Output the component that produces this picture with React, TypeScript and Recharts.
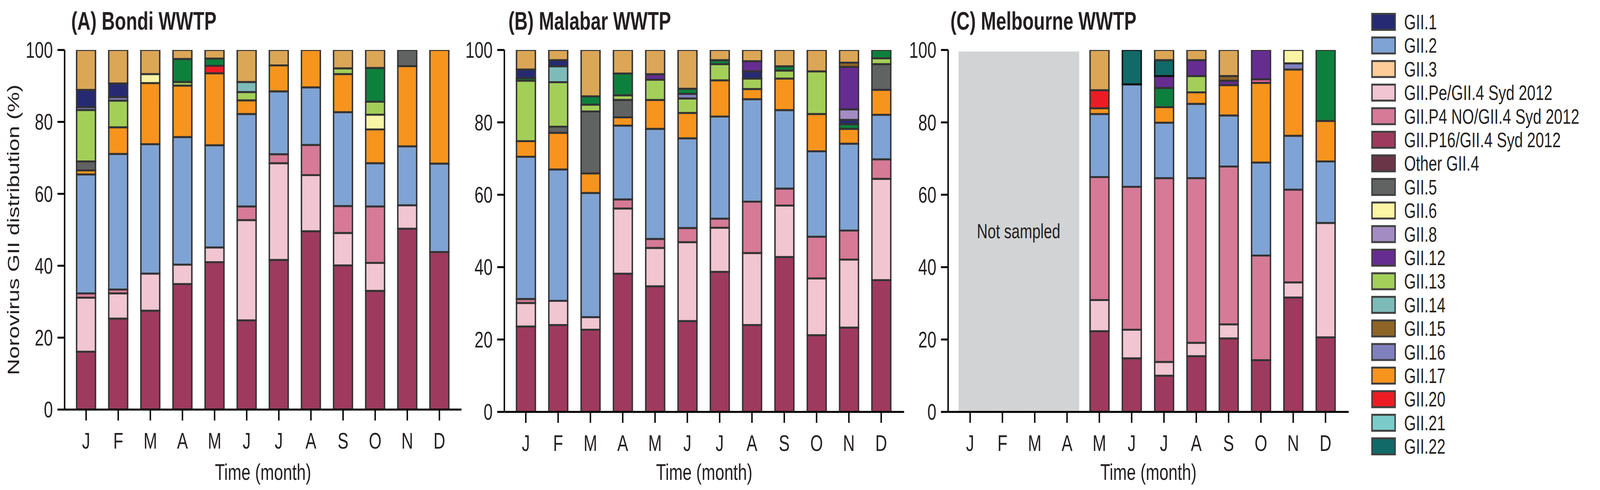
import React from 'react'
import { BarChart, Bar, XAxis, YAxis, ReferenceArea } from 'recharts'

const MONTHS = ['Jan', 'Feb', 'Mar', 'Apr', 'May', 'Jun', 'Jul', 'Aug', 'Sep', 'Oct', 'Nov', 'Dec']
const Y_TICKS = [0, 20, 40, 60, 80, 100]
const TEXT = '#231f20'
const FONT = "'Liberation Sans', 'DejaVu Sans', sans-serif"
const FIG_W = 5596
const FIG_H = 1255

interface Series {
  key: string
  label: string
  color: string
  legend: boolean
  stroke?: string
}

// stack order, bottom to top
const SERIES: Series[] = [
  { key: 'P16', label: 'GII.P16/GII.4 Syd 2012', color: '#9e3a5e', legend: true },
  { key: 'Pe', label: 'GII.Pe/GII.4 Syd 2012', color: '#f1c5d2', legend: true },
  { key: 'P4', label: 'GII.P4 NO/GII.4 Syd 2012', color: '#d67a97', legend: true },
  { key: 'O4', label: 'Other GII.4', color: '#6a3547', legend: true },
  { key: 'G2', label: 'GII.2', color: '#7fa3d4', legend: true },
  { key: 'G17', label: 'GII.17', color: '#f7941d', legend: true },
  { key: 'HP', label: 'unlisted (pink)', color: '#f0659a', legend: false },
  { key: 'G20', label: 'GII.20', color: '#ed1c24', legend: true },
  { key: 'G5', label: 'GII.5', color: '#616262', legend: true },
  { key: 'G6', label: 'GII.6', color: '#faf5a5', legend: true },
  { key: 'G13', label: 'GII.13', color: '#a3cf59', legend: true },
  { key: 'G14', label: 'GII.14', color: '#7dbbb9', legend: true },
  { key: 'G16', label: 'GII.16', color: '#8080bf', legend: true },
  { key: 'DG', label: 'unlisted (green)', color: '#0e803e', legend: false },
  { key: 'G1', label: 'GII.1', color: '#262a73', legend: true },
  { key: 'G8', label: 'GII.8', color: '#a38cc2', legend: true },
  { key: 'G12', label: 'GII.12', color: '#662d91', legend: true },
  { key: 'G22', label: 'GII.22', color: '#116a68', legend: true, stroke: '#111111' },
  { key: 'G15', label: 'GII.15', color: '#8e6428', legend: true },
  { key: 'G21', label: 'GII.21', color: '#7acbc9', legend: true },
  { key: 'G3', label: 'GII.3', color: '#fdcc99', legend: true },
  { key: 'G6b', label: 'GII.6', color: '#faf5a5', legend: false },
  { key: 'TAN', label: 'unlisted (tan)', color: '#dca657', legend: false },
]

const LEGEND_KEYS = ['G1', 'G2', 'G3', 'Pe', 'P4', 'P16', 'O4', 'G5', 'G6', 'G8', 'G12', 'G13', 'G14', 'G15', 'G16', 'G17', 'G20', 'G21', 'G22']

// values in %, Jan..Dec
const BONDI: Record<string, number[]> = {
  P16: [16.1, 25.3, 27.5, 34.9, 41.0, 24.8, 41.6, 49.6, 40.1, 33.0, 50.3, 43.8],
  Pe: [15.0, 7.0, 10.3, 5.4, 4.1, 27.9, 26.9, 15.6, 9.0, 7.8, 6.5, 0],
  P4: [1.2, 1.1, 0, 0, 0, 3.8, 2.5, 8.4, 7.5, 15.7, 0, 0],
  G2: [33.1, 37.7, 36.0, 35.5, 28.4, 25.7, 17.5, 16.0, 26.1, 12.0, 16.4, 24.6],
  G17: [1.1, 7.4, 17.0, 14.3, 20.0, 3.8, 7.2, 10.4, 10.6, 9.4, 22.3, 31.6],
  G20: [0, 0, 0, 0, 2.1, 0, 0, 0, 0, 0, 0, 0],
  G5: [2.5, 0, 0, 0, 0, 0, 0, 0, 0, 0, 4.5, 0],
  G6: [0, 0, 2.5, 0, 0, 0, 0, 0, 0, 4.1, 0, 0],
  G13: [14.3, 7.4, 0, 1.0, 0, 2.3, 0, 0, 1.6, 3.6, 0, 0],
  G14: [0, 0, 0, 0, 0, 2.8, 0, 0, 0, 0, 0, 0],
  G16: [0.8, 1.0, 0, 0, 0, 0, 0, 0, 0, 0, 0, 0],
  DG: [0, 0, 0, 6.4, 2.0, 0, 0, 0, 0, 9.4, 0, 0],
  G1: [4.8, 3.8, 0, 0, 0, 0, 0, 0, 0, 0, 0, 0],
  TAN: [11.1, 9.3, 6.7, 2.5, 2.4, 8.9, 4.3, 0, 5.1, 5.0, 0, 0],
}

const MALABAR: Record<string, number[]> = {
  P16: [23.6, 24.0, 22.7, 38.2, 34.7, 25.1, 38.7, 24.0, 42.8, 21.2, 23.3, 36.4],
  Pe: [6.5, 6.7, 3.5, 18.0, 10.6, 21.8, 12.2, 19.9, 14.2, 15.7, 18.8, 28.0],
  P4: [1.1, 0, 0, 2.5, 2.5, 3.9, 2.5, 14.2, 4.7, 11.5, 8.0, 5.4],
  G2: [39.3, 36.3, 34.3, 20.4, 30.4, 24.8, 28.2, 28.3, 21.7, 23.6, 24.0, 12.3],
  G17: [4.3, 10.1, 5.4, 2.3, 8.0, 7.0, 10.0, 2.8, 8.7, 10.3, 4.1, 6.9],
  G5: [0, 1.7, 17.1, 4.8, 0, 0, 0, 0, 0, 0, 0, 7.1],
  G13: [16.7, 12.3, 1.9, 1.3, 5.6, 4.0, 4.5, 2.9, 2.2, 11.8, 0, 1.6],
  G14: [0, 4.4, 0, 0, 0, 0, 0, 0, 0, 0, 0, 0],
  G16: [0, 0, 0, 0, 0, 1.3, 0, 0, 0, 0, 0, 0],
  DG: [0.7, 0, 2.3, 6.0, 0, 1.4, 1.1, 0, 1.2, 0, 1.3, 2.3],
  G1: [2.4, 1.7, 0, 0, 0, 0, 0, 2.0, 0, 0, 1.2, 0],
  G8: [0, 0, 0, 0, 0, 0, 0, 0, 0, 0, 2.9, 0],
  G12: [0, 0, 0, 0, 1.5, 0, 0, 2.8, 0, 0, 11.7, 0],
  G15: [0, 0, 0, 0, 0, 0, 0, 0, 0, 0, 1.2, 0],
  TAN: [5.4, 2.8, 12.8, 6.5, 6.7, 10.7, 2.8, 3.1, 4.5, 5.9, 3.5, 0],
}

// Jan-Apr not sampled
const MELBOURNE: Record<string, number[]> = {
  P16: [0, 0, 0, 0, 22.3, 14.8, 10.0, 15.4, 20.3, 14.3, 31.6, 20.6],
  Pe: [0, 0, 0, 0, 8.6, 7.9, 3.8, 3.7, 3.9, 0, 4.2, 31.6],
  P4: [0, 0, 0, 0, 34.0, 39.5, 50.8, 45.5, 43.6, 28.9, 25.6, 0],
  G2: [0, 0, 0, 0, 17.4, 28.3, 15.3, 20.5, 14.1, 25.7, 14.9, 17.0],
  G17: [0, 0, 0, 0, 1.6, 0, 4.3, 3.2, 8.4, 22.0, 18.3, 11.2],
  HP: [0, 0, 0, 0, 0, 0, 0, 0, 0, 1.0, 0, 0],
  G20: [0, 0, 0, 0, 5.0, 0, 0, 0, 0, 0, 0, 0],
  G13: [0, 0, 0, 0, 0, 0, 0, 4.5, 0, 0, 0, 0],
  G16: [0, 0, 0, 0, 0, 0, 0, 0, 0, 0, 1.7, 0],
  DG: [0, 0, 0, 0, 0, 0, 5.3, 0, 0, 0, 0, 19.6],
  G12: [0, 0, 0, 0, 0, 0, 3.3, 4.4, 1.2, 8.1, 0, 0],
  G22: [0, 0, 0, 0, 0, 9.5, 4.4, 0, 0, 0, 0, 0],
  G15: [0, 0, 0, 0, 0, 0, 0, 0, 1.3, 0, 0, 0],
  G6b: [0, 0, 0, 0, 0, 0, 0, 0, 0, 0, 3.7, 0],
  TAN: [0, 0, 0, 0, 11.1, 0, 2.8, 2.8, 7.2, 0, 0, 0],
}

function buildRows(site: Record<string, number[]>) {
  return MONTHS.map((month, i) => {
    const row: Record<string, any> = { month }
    SERIES.forEach((s) => {
      row[s.key] = site[s.key] ? site[s.key][i] : 0
    })
    return row
  })
}

const PANELS = [
  { title: '(A) Bondi WWTP', site: BONDI, left: 0, width: 1640, yWidth: 226, right: 26, xHeight: 206, pad: { left: 19, right: 21 }, yLabel: true, titleX: 249 },
  { title: '(B) Malabar WWTP', site: MALABAR, left: 1594, width: 1588, yWidth: 170, right: 20, xHeight: 200, pad: { left: 18.5, right: 23.5 }, yLabel: false, titleX: 1778 },
  { title: '(C) Melbourne WWTP', site: MELBOURNE, left: 3146, width: 1591, yWidth: 170, right: 20, xHeight: 200, pad: { left: 20.5, right: 24.5 }, yLabel: false, titleX: 3324, notSampled: true },
]

const axisStyle = { stroke: '#000', strokeWidth: 5 }

function Panel({ p }: { p: any }) {
  const rows = buildRows(p.site)
  return (
    <div style={{ position: 'absolute', left: p.left, top: 0 }}>
      <BarChart width={p.width} height={FIG_H} data={rows} barSize={66} margin={{ top: 128, right: p.right, bottom: 0, left: 0 }}>
        <XAxis
          dataKey="month"
          tickFormatter={(m: string) => m.charAt(0)}
          padding={p.pad}
          height={p.xHeight}
          axisLine={axisStyle}
          tickLine={axisStyle}
          tickSize={28}
          tickMargin={32}
          interval={0}
          tick={{ fontSize: 57, fill: TEXT }}
          label={{ value: 'Time (month)', position: 'insideBottom', offset: 26, fontSize: 57, fill: TEXT }}
        />
        <YAxis
          width={p.yWidth}
          domain={[0, 100]}
          ticks={Y_TICKS}
          allowDataOverflow
          axisLine={axisStyle}
          tickLine={axisStyle}
          tickSize={25}
          tickMargin={16}
          tick={{ fontSize: 57, fill: TEXT }}
          label={p.yLabel ? { value: 'Norovirus GII distribution (%)', angle: -90, position: 'insideLeft', offset: 46, fontSize: 58, fill: TEXT, style: { textAnchor: 'middle' } } : undefined}
        />
        {p.notSampled && (
          <ReferenceArea
            x1="Jan"
            x2="Apr"
            y1={0}
            y2={100}
            shape={(a: any) => <rect x={a.x + 16} y={a.y + 4} width={a.width - 30} height={a.height - 4} fill="#d1d3d4" />}
            label={{ value: 'Not sampled', position: 'center', fontSize: 52, fill: TEXT }}
          />
        )}
        {SERIES.map((s) => (
          <Bar
            key={s.key}
            dataKey={s.key}
            name={s.label}
            stackId="a"
            fill={s.color}
            stroke={s.stroke || '#333333'}
            strokeWidth={5}
            isAnimationActive={false}
          />
        ))}
      </BarChart>
    </div>
  )
}

export default function App() {
  const legendItems = LEGEND_KEYS.map((k) => SERIES.find((s) => s.key === k) as Series)
  // fit the figure into the window if the viewport is smaller than the figure
  const vw = typeof window !== 'undefined' ? window.innerWidth : FIG_W
  const vh = typeof window !== 'undefined' ? window.innerHeight : FIG_H
  const sx = Math.min(1, vw / FIG_W)
  const sy = Math.min(1, vh / FIG_H)
  return (
    <div
      style={{
        position: 'absolute',
        left: 0,
        top: 0,
        width: FIG_W,
        height: FIG_H,
        background: '#fff',
        fontFamily: FONT,
        transform: `scale(${sx}, ${sy})`,
        transformOrigin: '0 0',
      }}
    >
      {PANELS.map((p) => (
        <Panel key={p.title} p={p} />
      ))}
      <svg width={FIG_W} height={FIG_H} style={{ position: 'absolute', left: 0, top: 0, pointerEvents: 'none' }}>
        {PANELS.map((p) => (
          <text key={p.title} x={p.titleX} y={76} fontSize={64} fontWeight={700} fill={TEXT} fontFamily={FONT}>
            {p.title}
          </text>
        ))}
        {legendItems.map((s, i) => {
          const top = 33 + i * 60.4
          return (
            <g key={s.key}>
              <rect x={4798.5} y={top + 2.5} width={81} height={41} fill={s.color} stroke="#404040" strokeWidth={5} />
              <text x={4911} y={top + 42} fontSize={53} fill={TEXT} fontFamily={FONT}>
                {s.label}
              </text>
            </g>
          )
        })}
      </svg>
    </div>
  )
}
